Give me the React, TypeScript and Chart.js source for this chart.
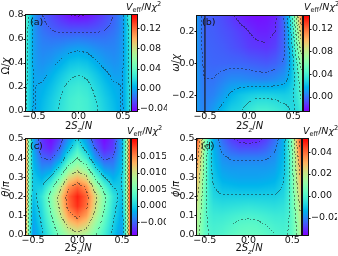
import React, { useEffect, useRef } from "react";
import { Chart, registerables } from "chart.js";
Chart.register(...registerables);

const FIG_W = 338;
const FIG_H = 256;

// ---------- shared x axis ----------
const xTicks = [-0.5, 0.0, 0.5];

// ---------- panel (a) ----------
const aYTicks = [0, 0.2, 0.4, 0.6, 0.8];
const aCbTicks = [-0.04, 0.0, 0.04, 0.08, 0.12];
const aGridX = [-0.6, -0.55, -0.5, -0.45, -0.4, -0.3, -0.2, -0.1, 0, 0.1, 0.2, 0.3, 0.4, 0.45, 0.5, 0.55, 0.6];
const aGridY = [0, 0.1, 0.2, 0.3, 0.4, 0.5, 0.6, 0.7, 0.8];
const aValues = [
  [0.028, 0.012, -0.002, 0.003, 0.007, 0.014, 0.022, 0.029, 0.032, 0.029, 0.022, 0.014, 0.007, 0.003, -0.002, 0.012, 0.028],
  [0.028, 0.012, -0.001, 0.002, 0.005, 0.012, 0.020, 0.028, 0.031, 0.028, 0.020, 0.012, 0.005, 0.002, -0.001, 0.012, 0.028],
  [0.029, 0.012, -0.001, 0.001, 0.002, 0.008, 0.016, 0.024, 0.027, 0.024, 0.016, 0.008, 0.002, 0.001, -0.001, 0.012, 0.029],
  [0.030, 0.012, -0.001, -0.003, -0.003, 0.003, 0.010, 0.017, 0.020, 0.017, 0.010, 0.003, -0.003, -0.003, -0.001, 0.012, 0.030],
  [0.031, 0.012, -0.002, -0.006, -0.007, -0.004, 0.002, 0.008, 0.010, 0.008, 0.002, -0.004, -0.007, -0.006, -0.002, 0.012, 0.031],
  [0.033, 0.012, -0.003, -0.008, -0.010, -0.009, -0.006, -0.002, 0.000, -0.002, -0.006, -0.009, -0.010, -0.008, -0.003, 0.012, 0.033],
  [0.035, 0.013, -0.004, -0.010, -0.013, -0.015, -0.015, -0.014, -0.013, -0.014, -0.015, -0.015, -0.013, -0.010, -0.004, 0.013, 0.035],
  [0.038, 0.014, -0.005, -0.013, -0.017, -0.022, -0.025, -0.027, -0.027, -0.027, -0.025, -0.022, -0.017, -0.013, -0.005, 0.014, 0.038],
  [0.042, 0.016, -0.005, -0.014, -0.020, -0.027, -0.034, -0.040, -0.042, -0.040, -0.034, -0.027, -0.020, -0.014, -0.005, 0.016, 0.042],
];
const aLevels = [-0.04, -0.02, 0.0, 0.02, 0.04];

// ---------- panel (b) ----------
const bYTicks = [-0.2, 0.0, 0.2];
const bCbTicks = [0.0, 0.04, 0.08, 0.12];
const bGridX = [-0.6, -0.55, -0.5, -0.4, -0.3, -0.2, -0.1, 0, 0.1, 0.2, 0.3, 0.4, 0.45, 0.5, 0.55, 0.6];
const bGridY = [-0.3, -0.2, -0.1, 0.0, 0.1, 0.2, 0.3];
const bValues = [
  [0.012, 0.006, 0.004, 0.011, 0.019, 0.026, 0.028, 0.036, 0.041, 0.041, 0.038, 0.034, 0.031, 0.028, 0.032, 0.040],
  [0.012, 0.005, 0.002, 0.004, 0.010, 0.017, 0.022, 0.025, 0.027, 0.027, 0.026, 0.025, 0.026, 0.029, 0.036, 0.048],
  [0.012, 0.004, 0.000, 0.000, 0.003, 0.006, 0.006, 0.005, 0.004, 0.004, 0.006, 0.010, 0.016, 0.025, 0.038, 0.055],
  [0.012, 0.003, -0.002, -0.003, -0.003, -0.003, -0.003, -0.004, -0.005, -0.006, -0.004, 0.001, 0.010, 0.025, 0.045, 0.068],
  [0.012, 0.002, -0.003, -0.004, -0.005, -0.007, -0.009, -0.012, -0.013, -0.014, -0.011, -0.002, 0.012, 0.032, 0.058, 0.085],
  [0.012, 0.002, -0.004, -0.005, -0.007, -0.009, -0.012, -0.015, -0.018, -0.018, -0.015, -0.002, 0.015, 0.040, 0.070, 0.100],
  [0.012, 0.002, -0.004, -0.006, -0.009, -0.013, -0.018, -0.021, -0.022, -0.021, -0.018, 0.000, 0.020, 0.050, 0.085, 0.120],
];
const bLevels = [-0.015, 0.0, 0.015, 0.03, 0.045, 0.06, 0.075, 0.09, 0.105, 0.12, 0.135];
const bLineX = [-0.5, -0.5];
const bLineY = [-0.3, 0.3];

// ---------- panel (c) ----------
const cYTicks = [0, 0.1, 0.2, 0.3, 0.4, 0.5];
const cCbTicks = [-0.005, 0.0, 0.005, 0.01, 0.015];
const cGridX = [-0.6, -0.57, -0.54, -0.5, -0.4, -0.3, -0.2, -0.1, 0, 0.1, 0.2, 0.3, 0.4, 0.5, 0.54, 0.57, 0.6];
const cGridY = [0, 0.05, 0.1, 0.15, 0.2, 0.25, 0.3, 0.35, 0.4, 0.45, 0.5];
const cValues = [
  [0.020, 0.011, 0.003, -0.003, -0.0005, 0.0025, 0.0055, 0.008, 0.009, 0.008, 0.0055, 0.0025, -0.0005, -0.003, 0.003, 0.011, 0.020],
  [0.020, 0.011, 0.003, -0.0025, 0.0, 0.0035, 0.007, 0.011, 0.0125, 0.011, 0.007, 0.0035, 0.0, -0.0025, 0.003, 0.011, 0.020],
  [0.020, 0.011, 0.003, -0.002, 0.0005, 0.0045, 0.009, 0.014, 0.016, 0.014, 0.009, 0.0045, 0.0005, -0.002, 0.003, 0.011, 0.020],
  [0.021, 0.012, 0.004, -0.0015, 0.001, 0.0055, 0.0105, 0.016, 0.0185, 0.016, 0.0105, 0.0055, 0.001, -0.0015, 0.004, 0.012, 0.021],
  [0.021, 0.012, 0.004, -0.001, 0.0015, 0.006, 0.011, 0.0165, 0.019, 0.0165, 0.011, 0.006, 0.0015, -0.001, 0.004, 0.012, 0.021],
  [0.021, 0.012, 0.004, -0.0005, -0.0002, 0.0035, 0.0085, 0.0145, 0.0165, 0.0145, 0.0085, 0.0035, -0.0002, -0.0005, 0.004, 0.012, 0.021],
  [0.021, 0.012, 0.004, -0.0005, -0.0018, 0.0, 0.0045, 0.0105, 0.0125, 0.0105, 0.0045, 0.0, -0.0018, -0.0005, 0.004, 0.012, 0.021],
  [0.021, 0.012, 0.004, -0.001, -0.0035, -0.003, 0.0005, 0.006, 0.0085, 0.006, 0.0005, -0.003, -0.0035, -0.001, 0.004, 0.012, 0.021],
  [0.021, 0.012, 0.004, -0.0015, -0.005, -0.0055, -0.003, 0.002, 0.005, 0.002, -0.003, -0.0055, -0.005, -0.0015, 0.004, 0.012, 0.021],
  [0.021, 0.012, 0.004, -0.002, -0.0065, -0.0075, -0.005, -0.001, 0.0025, -0.001, -0.005, -0.0075, -0.0065, -0.002, 0.004, 0.012, 0.021],
  [0.021, 0.012, 0.004, -0.002, -0.007, -0.0085, -0.0065, -0.003, 0.0, -0.003, -0.0065, -0.0085, -0.007, -0.002, 0.004, 0.012, 0.021],
];
const cLevels = [-0.005, 0.0, 0.005, 0.01, 0.015, 0.02];

// ---------- panel (d) ----------
const dYTicks = [0, 0.1, 0.2, 0.3, 0.4, 0.5];
const dCbTicks = [-0.02, 0.0, 0.02, 0.04];
const dGridX = [-0.6, -0.55, -0.5, -0.45, -0.4, -0.3, -0.2, -0.1, 0, 0.1, 0.2, 0.3, 0.4, 0.45, 0.5, 0.55, 0.6];
const dGridY = [0, 0.05, 0.1, 0.15, 0.2, 0.25, 0.3, 0.35, 0.4, 0.45, 0.5];
const dValues = [
  [0.017, 0.009, 0.003, 0.0, -0.001, 0.0, 0.002, 0.0035, 0.004, 0.0035, 0.002, 0.0, -0.001, 0.0, 0.003, 0.009, 0.017],
  [0.018, 0.010, 0.003, -0.001, -0.002, -0.0015, 0.0, 0.0015, 0.002, 0.0015, 0.0, -0.0015, -0.002, -0.001, 0.003, 0.010, 0.018],
  [0.020, 0.011, 0.003, -0.002, -0.0035, -0.0035, -0.0025, -0.0015, -0.001, -0.0015, -0.0025, -0.0035, -0.0035, -0.002, 0.003, 0.011, 0.020],
  [0.022, 0.013, 0.004, -0.003, -0.0055, -0.0065, -0.006, -0.0055, -0.005, -0.0055, -0.006, -0.0065, -0.0055, -0.003, 0.004, 0.013, 0.022],
  [0.025, 0.015, 0.004, -0.004, -0.008, -0.0095, -0.0095, -0.0095, -0.0095, -0.0095, -0.0095, -0.0095, -0.008, -0.004, 0.004, 0.015, 0.025],
  [0.028, 0.017, 0.005, -0.005, -0.0095, -0.0125, -0.013, -0.0135, -0.0135, -0.0135, -0.013, -0.0125, -0.0095, -0.005, 0.005, 0.017, 0.028],
  [0.031, 0.019, 0.006, -0.006, -0.011, -0.015, -0.016, -0.0165, -0.0165, -0.0165, -0.016, -0.015, -0.011, -0.006, 0.006, 0.019, 0.031],
  [0.034, 0.021, 0.007, -0.006, -0.012, -0.017, -0.018, -0.018, -0.018, -0.018, -0.018, -0.017, -0.012, -0.006, 0.007, 0.021, 0.034],
  [0.038, 0.023, 0.008, -0.006, -0.013, -0.019, -0.0205, -0.021, -0.021, -0.021, -0.0205, -0.019, -0.013, -0.006, 0.008, 0.023, 0.038],
  [0.042, 0.026, 0.009, -0.005, -0.014, -0.021, -0.025, -0.027, -0.027, -0.027, -0.025, -0.021, -0.014, -0.005, 0.009, 0.026, 0.042],
  [0.046, 0.029, 0.010, -0.004, -0.015, -0.024, -0.029, -0.032, -0.033, -0.032, -0.029, -0.024, -0.015, -0.004, 0.010, 0.029, 0.046],
];
const dLevels = [-0.03, -0.02, -0.01, 0.0, 0.01, 0.02, 0.03, 0.04];

// ---------- rendering helpers ----------
type Part = { t: string; it?: boolean; sub?: boolean; sup?: boolean };
const FONT = '"DejaVu Sans", sans-serif';

function clamp01(v: number) { return v < 0 ? 0 : v > 1 ? 1 : v; }
function rainbow(t: number): [number, number, number] {
  t = clamp01(t);
  const r = clamp01(Math.abs(2 * t - 0.5));
  const g = clamp01(Math.sin(Math.PI * t));
  const b = clamp01(Math.cos((Math.PI * t) / 2));
  return [r * 255, g * 255, b * 255];
}
function seg(arr: number[], v: number) {
  if (v <= arr[0]) return { i: 0, f: 0 };
  const n = arr.length;
  if (v >= arr[n - 1]) return { i: n - 2, f: 1 };
  let i = 0;
  while (i < n - 2 && v > arr[i + 1]) i++;
  return { i, f: (v - arr[i]) / (arr[i + 1] - arr[i]) };
}
function sample(gx: number[], gy: number[], gv: number[][], x: number, y: number) {
  const sx = seg(gx, x), sy = seg(gy, y);
  const r0 = gv[sy.i], r1 = gv[sy.i + 1];
  const a = r0[sx.i] * (1 - sx.f) + r0[sx.i + 1] * sx.f;
  const b = r1[sx.i] * (1 - sx.f) + r1[sx.i + 1] * sx.f;
  return a * (1 - sy.f) + b * sy.f;
}
function fmt(v: number, d: number) {
  const s = Math.abs(v).toFixed(d);
  return (v < -1e-12 ? "\u2212" : "") + s;
}
function drawRich(ctx: CanvasRenderingContext2D, parts: Part[], x: number, y: number, size: number, align: string) {
  const fontFor = (p: Part) => `${p.it ? "italic " : ""}${p.sub || p.sup ? size * 0.7 : size}px ${FONT}`;
  let w = 0;
  for (const p of parts) { ctx.font = fontFor(p); w += ctx.measureText(p.t).width; }
  let cx = align === "center" ? x - w / 2 : x;
  ctx.textAlign = "left";
  for (const p of parts) {
    ctx.font = fontFor(p);
    const dy = p.sub ? size * 0.25 : p.sup ? -size * 0.42 : 0;
    ctx.fillText(p.t, cx, y + dy);
    cx += ctx.measureText(p.t).width;
  }
}

const cbTitle: Part[] = [{ t: "V", it: true }, { t: "eff", sub: true }, { t: "/" }, { t: "N", it: true }, { t: "\u03c7", it: true }, { t: "2", sup: true }];
const xTitle: Part[] = [{ t: "2" }, { t: "S", it: true }, { t: "z", it: true, sub: true }, { t: "/" }, { t: "N", it: true }];

type PanelCfg = {
  left: number; top: number; right: number; bottom: number;
  cbGap: number; cbW: number;
  xMin: number; xMax: number; yMin: number; yMax: number;
  yTicks: number[]; yDec: number;
  gx: number[]; gy: number[]; gv: number[][];
  cbMin: number; cbMax: number; cbTicks: number[]; cbDec: number;
  levels: number[];
  tag: string; tagX: number; tagY: number;
  yTitle: Part[]; yTitleX: number; yTitleY: number;
  xTitleY: number; cbTitleX: number; cbTitleY: number;
  lineX?: number[]; lineY?: number[];
};

const Y_AXIS_W = 24;
const X_AXIS_H = 12;
const CB_AXIS_W = 36;

const heatPlugin = {
  id: "heat",
  beforeDraw(chart: any) {
    const cfg: PanelCfg = chart.options.plugins.heat.cfg;
    const { ctx, chartArea: ca, scales } = chart;
    const xs = scales.x, ys = scales.y, cb = scales.cb;
    const L = Math.round(ca.left), T = Math.round(ca.top);
    const W = Math.round(ca.right) - L, H = Math.round(ca.bottom) - T;
    const field = new Float32Array(W * H);
    for (let j = 0; j < H; j++) {
      const yv = ys.getValueForPixel(T + j + 0.5);
      for (let i = 0; i < W; i++) {
        const xv = xs.getValueForPixel(L + i + 0.5);
        field[j * W + i] = sample(cfg.gx, cfg.gy, cfg.gv, xv, yv);
      }
    }
    const lev = (v: number) => { let k = 0; for (const l of cfg.levels) if (v >= l) k++; return k; };
    const img = ctx.createImageData(W, H);
    const span = cfg.cbMax - cfg.cbMin;
    for (let j = 0; j < H; j++) {
      for (let i = 0; i < W; i++) {
        const v = field[j * W + i];
        let [r, g, b] = rainbow((v - cfg.cbMin) / span);
        const k = lev(v);
        let edge = false;
        if (i + 1 < W && lev(field[j * W + i + 1]) !== k) edge = true;
        if (j + 1 < H && lev(field[(j + 1) * W + i]) !== k) edge = true;
        if (edge && ((i >> 1) + (j >> 1)) % 2 === 0) {
          const a = 0.5;
          r = r * (1 - a) + 25 * a; g = g * (1 - a) + 25 * a; b = b * (1 - a) + 25 * a;
        }
        const o = (j * W + i) * 4;
        img.data[o] = r; img.data[o + 1] = g; img.data[o + 2] = b; img.data[o + 3] = 255;
      }
    }
    const off = document.createElement("canvas");
    off.width = W; off.height = H;
    (off.getContext("2d") as CanvasRenderingContext2D).putImageData(img, 0, 0);
    ctx.save();
    ctx.drawImage(off, L, T);
    // colorbar
    const cbx = Math.round(ca.right) + cfg.cbGap;
    for (let py = T; py < T + H; py++) {
      const v = cb.getValueForPixel(py + 0.5);
      const [r, g, b] = rainbow((v - cfg.cbMin) / span);
      ctx.fillStyle = `rgb(${r | 0},${g | 0},${b | 0})`;
      ctx.fillRect(cbx, py, cfg.cbW, 1);
    }
    ctx.restore();
  },
  afterDraw(chart: any) {
    const cfg: PanelCfg = chart.options.plugins.heat.cfg;
    const { ctx, chartArea: ca, scales } = chart;
    const cb = scales.cb;
    const L = Math.round(ca.left), T = Math.round(ca.top);
    const R = Math.round(ca.right), B = Math.round(ca.bottom);
    ctx.save();
    ctx.strokeStyle = "#111";
    ctx.lineWidth = 1;
    ctx.strokeRect(L - 0.5, T - 0.5, R - L + 1, B - T + 1);
    const cbx = R + cfg.cbGap;
    ctx.strokeRect(cbx - 0.5, T - 0.5, cfg.cbW + 1, B - T + 1);
    // colorbar tick marks
    ctx.beginPath();
    for (const v of cfg.cbTicks) {
      const py = Math.round(cb.getPixelForValue(v)) + 0.5;
      ctx.moveTo(cbx + cfg.cbW, py);
      ctx.lineTo(cbx + cfg.cbW + 2.5, py);
    }
    ctx.stroke();
    ctx.fillStyle = "#111";
    ctx.textBaseline = "alphabetic";
    // panel tag
    ctx.font = `9.5px ${FONT}`;
    ctx.fillText(cfg.tag, cfg.tagX, cfg.tagY);
    // colorbar title
    drawRich(ctx, cbTitle, cfg.cbTitleX, cfg.cbTitleY, 9.5, "left");
    // x title
    drawRich(ctx, xTitle, (L + R) / 2, cfg.xTitleY, 10, "center");
    // y title (rotated)
    ctx.save();
    ctx.translate(cfg.yTitleX, cfg.yTitleY);
    ctx.rotate(-Math.PI / 2);
    drawRich(ctx, cfg.yTitle, 0, 3.5, 10, "center");
    ctx.restore();
    ctx.restore();
  },
};

function Panel({ cfg }: { cfg: PanelCfg }) {
  const ref = useRef<HTMLCanvasElement>(null);
  useEffect(() => {
    const canvas = ref.current as HTMLCanvasElement;
    const tickFont = { family: FONT, size: 9.5 };
    const datasets: any[] = [];
    if (cfg.lineX && cfg.lineY) {
      datasets.push({
        data: cfg.lineX.map((x, i) => ({ x, y: (cfg.lineY as number[])[i] })),
        showLine: true, borderColor: "#1a1a1a", borderWidth: 1.2, pointRadius: 0,
      });
    }
    const chart = new Chart(canvas, {
      type: "scatter",
      data: { datasets },
      options: {
        animation: false,
        responsive: false,
        events: [],
        layout: {
          padding: {
            left: cfg.left - Y_AXIS_W,
            top: cfg.top,
            right: FIG_W - cfg.right - CB_AXIS_W,
            bottom: FIG_H - cfg.bottom - X_AXIS_H,
          },
        },
        plugins: { legend: { display: false }, tooltip: { enabled: false }, heat: { cfg } } as any,
        scales: {
          x: {
            type: "linear", position: "bottom", min: cfg.xMin, max: cfg.xMax,
            afterBuildTicks: (s: any) => { s.ticks = xTicks.map((v) => ({ value: v })); },
            afterFit: (s: any) => { s.height = X_AXIS_H; },
            grid: { drawOnChartArea: false, drawTicks: true, tickLength: 2.5, color: "#111" },
            border: { display: false },
            ticks: { padding: -2.5, font: tickFont, color: "#111", maxRotation: 0, autoSkip: false, callback: (v: any) => fmt(Number(v), 1) },
          },
          y: {
            type: "linear", position: "left", min: cfg.yMin, max: cfg.yMax,
            afterBuildTicks: (s: any) => { s.ticks = cfg.yTicks.map((v) => ({ value: v })); },
            afterFit: (s: any) => { s.width = Y_AXIS_W; },
            grid: { drawOnChartArea: false, drawTicks: true, tickLength: 2.5, color: "#111" },
            border: { display: false },
            ticks: { padding: 0, font: tickFont, color: "#111", autoSkip: false, callback: (v: any) => fmt(Number(v), cfg.yDec) },
          },
          cb: {
            type: "linear", axis: "y", position: "right", min: cfg.cbMin, max: cfg.cbMax,
            afterBuildTicks: (s: any) => { s.ticks = cfg.cbTicks.map((v) => ({ value: v })); },
            afterFit: (s: any) => { s.width = CB_AXIS_W; },
            grid: { display: false, drawTicks: false },
            border: { display: false },
            ticks: { padding: cfg.cbGap + cfg.cbW + 3, font: tickFont, color: "#111", autoSkip: false, callback: (v: any) => fmt(Number(v), cfg.cbDec) },
          },
        } as any,
      },
      plugins: [heatPlugin as any],
    });
    return () => chart.destroy();
  }, [cfg]);
  return (
    <canvas
      ref={ref}
      width={FIG_W}
      height={FIG_H}
      style={{ position: "absolute", left: 0, top: 0, width: FIG_W, height: FIG_H }}
    />
  );
}

const panels: PanelCfg[] = [
  {
    left: 26, top: 15, right: 131, bottom: 111, cbGap: 1, cbW: 5,
    xMin: -0.59, xMax: 0.59, yMin: 0, yMax: 0.8, yTicks: aYTicks, yDec: 1,
    gx: aGridX, gy: aGridY, gv: aValues,
    cbMin: -0.044, cbMax: 0.146, cbTicks: aCbTicks, cbDec: 2, levels: aLevels,
    tag: "(a)", tagX: 30, tagY: 25,
    yTitle: [{ t: "\u03a9" }, { t: "/" }, { t: "\u03c7", it: true }], yTitleX: 5, yTitleY: 66,
    xTitleY: 129, cbTitleX: 126, cbTitleY: 10,
  },
  {
    left: 197, top: 15, right: 302, bottom: 111, cbGap: 2, cbW: 5,
    xMin: -0.59, xMax: 0.6, yMin: -0.3, yMax: 0.3, yTicks: bYTicks, yDec: 1,
    gx: bGridX, gy: bGridY, gv: bValues,
    cbMin: -0.025, cbMax: 0.143, cbTicks: bCbTicks, cbDec: 2, levels: bLevels,
    tag: "(b)", tagX: 202, tagY: 25,
    yTitle: [{ t: "\u03c9", it: true }, { t: "/" }, { t: "\u03c7", it: true }], yTitleX: 175, yTitleY: 63,
    xTitleY: 129, cbTitleX: 304, cbTitleY: 10,
    lineX: bLineX, lineY: bLineY,
  },
  {
    left: 26, top: 139, right: 130, bottom: 235, cbGap: 2, cbW: 5,
    xMin: -0.58, xMax: 0.59, yMin: 0, yMax: 0.5, yTicks: cYTicks, yDec: 1,
    gx: cGridX, gy: cGridY, gv: cValues,
    cbMin: -0.0088, cbMax: 0.0202, cbTicks: cCbTicks, cbDec: 3, levels: cLevels,
    tag: "(c)", tagX: 30, tagY: 149,
    yTitle: [{ t: "\u03b8", it: true }, { t: "/" }, { t: "\u03c0", it: true }], yTitleX: 5, yTitleY: 189,
    xTitleY: 251, cbTitleX: 127, cbTitleY: 134,
  },
  {
    left: 197, top: 139, right: 301, bottom: 235, cbGap: 2, cbW: 5,
    xMin: -0.59, xMax: 0.6, yMin: 0, yMax: 0.5, yTicks: dYTicks, yDec: 1,
    gx: dGridX, gy: dGridY, gv: dValues,
    cbMin: -0.036, cbMax: 0.052, cbTicks: dCbTicks, cbDec: 2, levels: dLevels,
    tag: "(d)", tagX: 201, tagY: 149,
    yTitle: [{ t: "\u03d5", it: true }, { t: "/" }, { t: "\u03c0", it: true }], yTitleX: 175, yTitleY: 189,
    xTitleY: 251, cbTitleX: 303, cbTitleY: 134,
  },
];

export default function App() {
  useEffect(() => {
    document.body.style.margin = "0";
    document.body.style.background = "#fff";
  }, []);
  return (
    <div style={{ position: "fixed", left: 0, top: 0, width: FIG_W, height: FIG_H, background: "#fff", overflow: "hidden" }}>
      {panels.map((p, i) => (
        <Panel key={i} cfg={p} />
      ))}
    </div>
  );
}
